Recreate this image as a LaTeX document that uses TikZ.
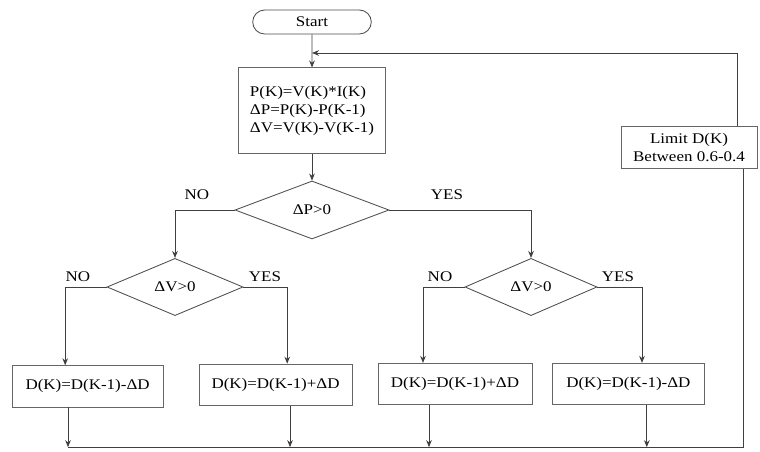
\documentclass[tikz,border=0pt]{standalone}
\usepackage{fontspec}
\setmainfont{Liberation Serif}[FakeStretch=1.15]
\usetikzlibrary{shapes.geometric,shapes.misc,arrows.meta}

\begin{document}
\begin{tikzpicture}[
    every node/.style={font=\fontsize{10.5}{12.5}\selectfont},
    line/.style={draw=black!75, line width=0.6pt},
    flow/.style={line, -{Stealth[length=5pt,width=4pt]}},
    procbox/.style={draw=black!60, line width=0.7pt, rectangle, minimum height=1.03cm},
    decision/.style={draw=black!70, line width=0.6pt, diamond, minimum height=1.43cm, inner sep=0pt},
    startbox/.style={draw=black!70, line width=0.6pt, rounded rectangle, minimum width=3.2cm, minimum height=0.6cm}
  ]
  \useasboundingbox (0,0) rectangle (19,11.3);

  \node [startbox] (start) at (7.8, 10.75) {Start};
  \node [procbox, minimum width=3.67cm, minimum height=2.15cm, align=left] (calc) at (7.8, 8.525)
        {P(K)=V(K)*I(K)\\ΔP=P(K)-P(K-1)\\ΔV=V(K)-V(K-1)};

  \node [decision, minimum width=3.85cm, minimum height=1.45cm] (dp) at (7.8, 6.05) {ΔP>0};
  \node [decision, minimum width=3.4cm] (dvl) at (4.375, 4.125) {ΔV>0};
  \node [decision, minimum width=3.3cm] (dvr) at (13.275, 4.125) {ΔV>0};

  \node [procbox, minimum width=3.78cm] (da) at (2.19, 1.64) {D(K)=D(K-1)-ΔD};
  \node [procbox, minimum width=3.82cm] (db) at (6.89, 1.68) {D(K)=D(K-1)+ΔD};
  \node [procbox, minimum width=3.85cm] (dc) at (11.375, 1.7) {D(K)=D(K-1)+ΔD};
  \node [procbox, minimum width=3.82cm] (dd) at (15.71, 1.7) {D(K)=D(K-1)-ΔD};

  \node [procbox, minimum width=3.4cm, align=center] (limit) at (17.225, 7.61)
        {Limit D(K)\\Between 0.6-0.4};

  \node (lno)  at (4.925, 6.43) {NO};
  \node (lyes) at (11.175, 6.43) {YES};
  \node (lno2)  at (1.95, 4.375) {NO};
  \node (lyes2) at (6.625, 4.375) {YES};
  \node (lno3)  at (11.0, 4.375) {NO};
  \node (lyes3) at (15.45, 4.375) {YES};

  \coordinate (fb) at (7.8, 9.975);
  \coordinate (tr) at (18.425, 9.975);
  \coordinate (bl) at (1.7, 0.12);
  \coordinate (br) at (18.575, 0.12);

  \draw [flow] (start) -- (calc);
  \draw [flow] (calc) -- (dp);
  \draw [flow] (dp.west) -| (dvl.north);
  \draw [flow] (dp.east) -| (dvr.north);

  \draw [flow] (dvl.west) -| ([xshift=-0.56cm]da.north);
  \draw [flow] (dvl.east) -| ([xshift=0.29cm]db.north);
  \draw [flow] (dvr.west) -| ([xshift=-0.8cm]dc.north);
  \draw [flow] (dvr.east) -| ([xshift=0.34cm]dd.north);

  \draw [flow] ([xshift=-0.49cm]da.south) -- ([xshift=-0.49cm]da.south |- bl);
  \draw [flow] ([xshift=0.36cm]db.south) -- ([xshift=0.36cm]db.south |- bl);
  \draw [flow] ([xshift=-0.65cm]dc.south) -- ([xshift=-0.65cm]dc.south |- bl);
  \draw [flow] ([xshift=0.46cm]dd.south) -- ([xshift=0.46cm]dd.south |- bl);

  \draw [line] (bl) -- (br) -- (br |- limit.south);
  \draw [flow] (tr |- limit.north) -- (tr) -- (fb);
\end{tikzpicture}
\end{document}
